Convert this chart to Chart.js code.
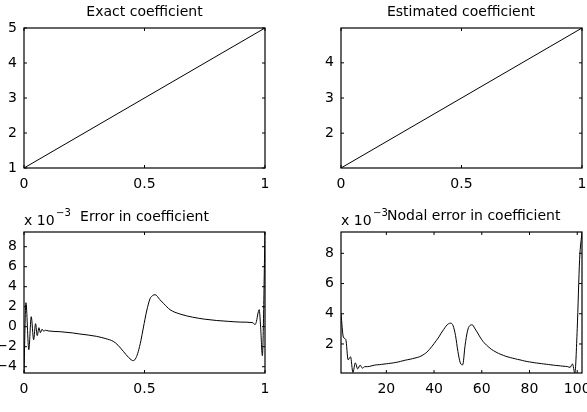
<!DOCTYPE html>
<html>
<head>
<meta charset="utf-8">
<script src="https://cdn.jsdelivr.net/npm/chart.js@4.4.1/dist/chart.umd.min.js"></script>
<style>
  html, body { margin: 0; padding: 0; background: #fff; width: 587px; height: 412px; overflow: hidden; position: relative; }
  canvas { position: absolute; }
</style>
</head>
<body>
<canvas id="exact" width="293" height="206" style="left:0;top:0"></canvas>
<canvas id="estimated" width="320" height="206" style="left:293px;top:0"></canvas>
<canvas id="error" width="293" height="206" style="left:0;top:206px"></canvas>
<canvas id="nodal" width="320" height="206" style="left:293px;top:206px"></canvas>
<script>
// ---- data ----
const coefX = [0, 1];
const exactY = [1, 5];
const estimatedY = [1.01, 4.99];

// error in coefficient, values in units of 1e-3
const errX = [0, 0.008, 0.02, 0.03, 0.04, 0.048, 0.055, 0.062, 0.068, 0.075,
  0.082, 0.09, 0.1, 0.15, 0.2, 0.232, 0.3, 0.34, 0.37, 0.39,
  0.412, 0.435, 0.454, 0.465, 0.474, 0.485, 0.495, 0.509, 0.523, 0.533,
  0.544, 0.564, 0.58, 0.606, 0.647, 0.7, 0.75, 0.8, 0.85, 0.9,
  0.95, 0.958, 0.963, 0.976, 0.982, 0.989, 1.0];
const errY = [-4.63, 2.4, -2.3, 1.0, -1.3, 0.3, -0.9, -0.1, -0.6, -0.25,
  -0.45, -0.35, -0.42, -0.5, -0.62, -0.73, -0.96, -1.2, -1.46, -1.85,
  -2.46, -3.1, -3.4, -3.1, -2.5, -1.4, -0.13, 1.57, 2.8, 3.1,
  3.2, 2.7, 2.3, 1.7, 1.27, 0.95, 0.75, 0.62, 0.53, 0.46,
  0.4, 0.2, 0.4, 1.7, -0.1, -2.9, 9.47];

// nodal error, node 1..102, units of 1e-3
const nodalY = [4.0, 2.45, 2.3, 0.95, 1.15, 0.12, 0.75, 0.35, 0.6, 0.4,
  0.5, 0.5, 0.52, 0.56, 0.6, 0.62, 0.63, 0.65, 0.67, 0.69,
  0.71, 0.73, 0.75, 0.78, 0.81, 0.85, 0.89, 0.93, 0.96, 0.99,
  1.03, 1.07, 1.11, 1.16, 1.24, 1.34, 1.46, 1.63, 1.82, 2.02,
  2.24, 2.46, 2.72, 2.95, 3.18, 3.33, 3.38, 3.2, 2.55, 1.5,
  0.75, 0.62, 1.9, 2.85, 3.22, 3.27, 3.05, 2.8, 2.53, 2.28,
  2.08, 1.92, 1.78, 1.65, 1.55, 1.46, 1.38, 1.31, 1.25, 1.19,
  1.14, 1.1, 1.06, 1.02, 0.98, 0.95, 0.91, 0.87, 0.84, 0.81,
  0.79, 0.76, 0.74, 0.72, 0.7, 0.68, 0.66, 0.64, 0.62, 0.6,
  0.58, 0.57, 0.55, 0.53, 0.52, 0.5, 0.45, 0.68, 0.08, 3.0,
  7.6, 9.41];
const nodalX = nodalY.map((v, i) => i + 1);

// tick labels
const unitTicks = [0, 0.5, 1];
const exactTicks = [1, 2, 3, 4, 5];
const estTicks = [2, 3, 4];
const errTicks = [-4, -2, 0, 2, 4, 6, 8];
const nodeTicks = [20, 40, 60, 80, 100];
const nodalTicks = [2, 4, 6, 8];

const FONT = 'DejaVu Sans';

// MATLAB-ish box, inward ticks and titles
const matlabBox = {
  id: 'matlabBox',
  afterDraw(chart, args, opts) {
    const ctx = chart.ctx;
    const a = chart.chartArea;
    const sx = chart.scales.x, sy = chart.scales.y;
    ctx.save();
    ctx.strokeStyle = '#000';
    ctx.lineWidth = 1.2;
    ctx.strokeRect(a.left, a.top, a.right - a.left, a.bottom - a.top);
    ctx.lineWidth = 1;
    ctx.beginPath();
    sx.ticks.forEach(t => {
      const p = sx.getPixelForValue(t.value);
      ctx.moveTo(p, a.bottom); ctx.lineTo(p, a.bottom - 3);
      ctx.moveTo(p, a.top); ctx.lineTo(p, a.top + 3);
    });
    sy.ticks.forEach(t => {
      const p = sy.getPixelForValue(t.value);
      ctx.moveTo(a.left, p); ctx.lineTo(a.left + 3, p);
      ctx.moveTo(a.right, p); ctx.lineTo(a.right - 3, p);
    });
    ctx.stroke();
    ctx.fillStyle = '#000';
    ctx.textBaseline = 'alphabetic';
    (opts.texts || []).forEach(t => {
      ctx.font = (t.size || 14) + 'px "' + FONT + '"';
      ctx.textAlign = t.align || 'center';
      ctx.fillText(t.text, t.x, t.y);
    });
    ctx.restore();
  }
};

function fmt(v) {
  return v < 0 ? '\u2212' + Math.abs(v) : String(v);
}

function panel(id, p) {
  return new Chart(document.getElementById(id), {
    type: 'line',
    data: {
      datasets: [{
        data: p.xs.map((x, i) => ({ x: x, y: p.ys[i] })),
        borderColor: '#000',
        borderWidth: 1,
        pointRadius: 0,
        fill: false,
        cubicInterpolationMode: p.smooth ? 'monotone' : 'default',
        tension: 0
      }]
    },
    options: {
      responsive: false,
      animation: false,
      events: [],
      layout: { padding: p.pad },
      plugins: {
        legend: { display: false },
        tooltip: { enabled: false },
        matlabBox: { texts: p.texts }
      },
      scales: {
        x: {
          type: 'linear', min: p.xmin, max: p.xmax,
          afterBuildTicks: s => { s.ticks = p.xt.map(v => ({ value: v })); },
          afterFit: s => { s.height = 30; },
          grid: { display: false, drawTicks: false }, border: { display: false },
          ticks: { color: '#000', font: { family: FONT, size: 14 }, padding: 8,
                   maxRotation: 0, autoSkip: false, callback: fmt }
        },
        y: {
          type: 'linear', min: p.ymin, max: p.ymax,
          afterBuildTicks: s => { s.ticks = p.yt.map(v => ({ value: v })); },
          afterFit: s => { s.width = p.yw; },
          grid: { display: false, drawTicks: false }, border: { display: false },
          ticks: { color: '#000', font: { family: FONT, size: 14 }, padding: 7,
                   autoSkip: false, callback: fmt }
        }
      }
    },
    plugins: [matlabBox]
  });
}

panel('exact', {
  xs: coefX, ys: exactY, xmin: 0, xmax: 1, ymin: 1, ymax: 5,
  xt: unitTicks, yt: exactTicks, yw: 24,
  pad: { left: 0, top: 28, right: 28, bottom: 8 },
  texts: [{ text: 'Exact coefficient', x: 144.5, y: 16 }]
});

panel('estimated', {
  xs: coefX, ys: estimatedY, xmin: 0, xmax: 1, ymin: 1.01, ymax: 4.99,
  xt: unitTicks, yt: estTicks, yw: 48,
  pad: { left: 0, top: 28, right: 31, bottom: 8 },
  texts: [{ text: 'Estimated coefficient', x: 168, y: 16 }]
});

panel('error', {
  xs: errX, ys: errY, smooth: true, xmin: 0, xmax: 1, ymin: -4.63, ymax: 9.47,
  xt: unitTicks, yt: errTicks, yw: 24,
  pad: { left: 0, top: 26, right: 28, bottom: 9 },
  texts: [
    { text: 'x 10', x: 24, y: 19, align: 'left' },
    { text: '\u22123', x: 56, y: 10, size: 10, align: 'left' },
    { text: 'Error in coefficient', x: 144.5, y: 15 }
  ]
});

panel('nodal', {
  xs: nodalX, ys: nodalY, smooth: true, xmin: 1, xmax: 102, ymin: 0.08, ymax: 9.41,
  xt: nodeTicks, yt: nodalTicks, yw: 48,
  pad: { left: 0, top: 26, right: 31, bottom: 9 },
  texts: [
    { text: 'x 10', x: 48, y: 19, align: 'left' },
    { text: '\u22123', x: 80, y: 10, size: 10, align: 'left' },
    { text: 'Nodal error in coefficient', x: 94, y: 14, align: 'left' }
  ]
});
</script>
</body>
</html>
